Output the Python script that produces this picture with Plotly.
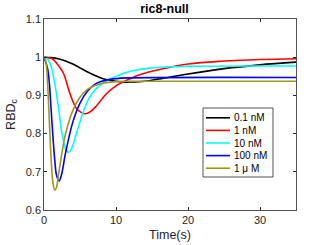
import plotly.graph_objects as go

# Data
t_black = [0, 1, 2, 3, 4, 5, 6, 7, 8, 9, 10, 11, 12, 14, 16, 20, 25, 30, 35]
y_black = [1.0, 0.999, 0.996, 0.99, 0.982, 0.972, 0.962, 0.953, 0.945, 0.94, 0.937, 0.935, 0.935, 0.937, 0.943, 0.956, 0.97, 0.98, 0.987]

t_red = [0, 1, 1.5, 2, 2.7, 3.6, 4.5, 5.2, 5.8, 6.5, 7.3, 8.7, 10, 11, 13, 15, 20, 25, 30, 35]
y_red = [1.0, 0.997, 0.99, 0.978, 0.958, 0.905, 0.866, 0.855, 0.852, 0.858, 0.873, 0.905, 0.925, 0.935, 0.952, 0.963, 0.982, 0.99, 0.994, 0.996]

t_cyan = [0, 0.5, 1, 1.5, 2, 2.5, 3, 3.4, 3.8, 4.5, 5.5, 6.5, 8, 10, 12, 15, 20, 35]
y_cyan = [1.0, 0.995, 0.975, 0.93, 0.87, 0.8, 0.76, 0.751, 0.76, 0.8, 0.86, 0.9, 0.93, 0.95, 0.963, 0.972, 0.976, 0.977]

t_blue = [0, 0.5, 0.75, 1.0, 1.25, 1.5, 1.75, 2.1, 2.4, 3, 4, 5, 6, 7, 8, 10, 12, 35]
y_blue = [1.0, 0.97, 0.93, 0.86, 0.79, 0.73, 0.69, 0.676, 0.69, 0.75, 0.83, 0.88, 0.91, 0.928, 0.937, 0.944, 0.946, 0.947]

t_olive = [0, 0.25, 0.5, 0.75, 1.0, 1.25, 1.5, 1.75, 2.0, 2.5, 3, 4, 5, 6, 7, 8, 10, 12, 35]
y_olive = [1.0, 0.99, 0.93, 0.83, 0.73, 0.67, 0.652, 0.66, 0.69, 0.75, 0.8, 0.86, 0.895, 0.915, 0.925, 0.931, 0.936, 0.937, 0.937]

series_names = ["0.1 nM", "1 nM", "10 nM", "100 nM", "1 μ M"]
series_t = [t_black, t_red, t_cyan, t_blue, t_olive]
series_y = [y_black, y_red, y_cyan, y_blue, y_olive]
series_colors = ["#000000", "#ff0000", "#00ffff", "#0000ff", "#9c9a13"]

x_ticks = [0, 10, 20, 30]
y_ticks = [0.6, 0.7, 0.8, 0.9, 1.0, 1.1]
y_ticklabels = ["0.6", "0.7", "0.8", "0.9", "1", "1.1"]

W, H = 327, 245
L, R, T, B = 44, 31, 19, 35
PW, PH = W - L - R, H - T - B
FONT = "Liberation Sans, Arial, sans-serif"
AXC = "#262626"

def px_x(px):
    return (px - L) / PW

def px_y(py):
    return (H - B - py) / PH

fig = go.Figure()
for name, tt, yy, c in zip(series_names, series_t, series_y, series_colors):
    fig.add_trace(go.Scatter(x=tt, y=yy, mode="lines", name=name, showlegend=False,
                             line=dict(color=c, width=1.6, shape="spline", smoothing=1.0)))

axis_common = dict(showline=True, linecolor=AXC, linewidth=0.8, mirror="allticks",
                   ticks="inside", ticklen=3, tickcolor=AXC, showgrid=False, zeroline=False,
                   automargin=False,
                   tickfont=dict(family=FONT, size=11, color=AXC))

# manual legend box (MATLAB-style compact legend)
shapes = [dict(type="rect", xref="paper", yref="paper",
               x0=px_x(203), x1=px_x(273), y0=px_y(177), y1=px_y(108),
               line=dict(color=AXC, width=0.8), fillcolor="white", layer="above")]
annotations = []
for i, (name, c) in enumerate(zip(series_names, series_colors)):
    ry = 117.8 + 12.6 * i
    shapes.append(dict(type="line", xref="paper", yref="paper",
                       x0=px_x(206), x1=px_x(230), y0=px_y(ry), y1=px_y(ry),
                       line=dict(color=c, width=1.6), layer="above"))
    annotations.append(dict(text=name, xref="paper", yref="paper", x=px_x(231.5), y=px_y(ry),
                            xanchor="left", yanchor="middle", showarrow=False,
                            font=dict(family=FONT, size=10, color="black")))

fig.update_layout(
    width=W, height=H,
    margin=dict(l=L, r=R, t=T, b=B, autoexpand=False),
    paper_bgcolor="white", plot_bgcolor="white",
    title=dict(text="<b>ric8-null</b>", x=(164.5 / W), xref="container", xanchor="center",
               y=(1 - 9.0 / H), yref="container", yanchor="middle", automargin=False,
               font=dict(family=FONT, size=12.5, color="black")),
    xaxis=dict(range=[0, 35], tickvals=x_ticks,
               title=dict(text="Time(s)", standoff=5, font=dict(family=FONT, size=12.5, color=AXC)),
               **axis_common),
    yaxis=dict(range=[0.6, 1.1], tickvals=y_ticks, ticktext=y_ticklabels,
               title=dict(text="RBD<sub>c</sub>", standoff=7, font=dict(family=FONT, size=12.5, color=AXC)),
               **axis_common),
    shapes=shapes,
    annotations=annotations,
    showlegend=False,
)

fig.write_html("out.html", config={"displayModeBar": False, "staticPlot": True},
               post_script="document.body.style.margin='0';document.body.style.overflow='hidden';")
